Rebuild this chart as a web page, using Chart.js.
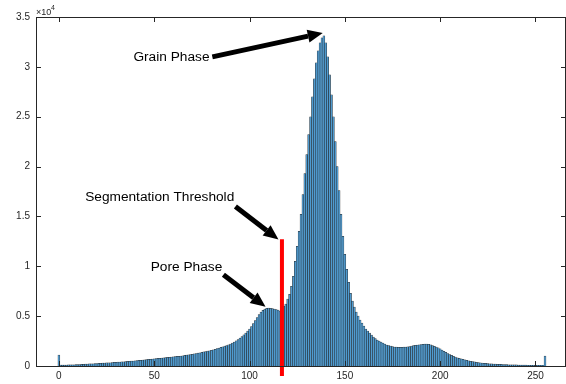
<!DOCTYPE html>
<html>
<head>
<meta charset="utf-8">
<script src="https://cdn.jsdelivr.net/npm/chart.js@4"></script>
<style>
  body { margin: 0; background: #fff; }
  canvas { display: block; }
</style>
</head>
<body>
<canvas id="graph" width="566" height="384"></canvas>
<script>
// grey level bins 0..255 and their pixel counts
const bins = Array.from({ length: 256 }, (_, i) => i);
const counts = [
    1100, 80, 90, 95, 100, 105, 110, 115, 120, 130, 140, 150, 165, 180, 190, 200,
    210, 220, 230, 240, 250, 260, 270, 285, 300, 310, 320, 330, 345, 360, 375, 390,
    400, 415, 430, 445, 460, 475, 490, 505, 520, 540, 560, 580, 600, 620, 640, 660,
    680, 700, 720, 740, 760, 780, 800, 820, 840, 860, 880, 900, 920, 940, 960, 980,
    1000, 1030, 1060, 1090, 1120, 1150, 1180, 1210, 1250, 1290, 1330, 1370, 1410, 1450, 1490, 1530,
    1580, 1630, 1680, 1740, 1800, 1860, 1920, 1990, 2060, 2130, 2210, 2300, 2400, 2520, 2650, 2790,
    2950, 3120, 3300, 3500, 3700, 3950, 4250, 4550, 4850, 5150, 5400, 5580, 5700, 5780, 5800, 5780,
    5750, 5700, 5650, 5600, 5500, 5550, 6000, 6200, 6700, 7200, 8000, 9000, 10500, 12000, 13500, 15200,
    17200, 19300, 21200, 23200, 25000, 27000, 28800, 30400, 31600, 32400, 32900, 33100, 32400, 31000, 29200, 27200,
    25000, 22500, 20000, 17600, 15200, 13000, 11200, 9700, 8400, 7300, 6500, 5900, 5400, 5000, 4600, 4300,
    4000, 3700, 3500, 3300, 3100, 2900, 2750, 2600, 2500, 2400, 2300, 2200, 2100, 2050, 2000, 1950,
    1900, 1900, 1880, 1880, 1880, 1900, 1900, 1920, 1950, 2000, 2050, 2080, 2100, 2120, 2150, 2180,
    2200, 2200, 2180, 2120, 2050, 1980, 1900, 1820, 1720, 1600, 1480, 1360, 1250, 1150, 1060, 980,
    900, 830, 770, 710, 660, 610, 560, 520, 480, 440, 410, 380, 350, 330, 300, 280,
    260, 240, 230, 215, 200, 190, 180, 170, 160, 150, 140, 130, 125, 120, 115, 110,
    105, 100, 95, 90, 85, 80, 78, 75, 72, 70, 68, 65, 62, 60, 60, 1000,
];

const xTicks = [0, 50, 100, 150, 200, 250];
const yTicks = [0, 5000, 10000, 15000, 20000, 25000, 30000, 35000];

// threshold line (grey level, top and bottom count)
const thresholdX = 117;
const thresholdY = [12700, -1000];

// annotations, in data units
const notes = ['Grain Phase', 'Segmentation Threshold', 'Pore Phase'];
const noteX = [79, 92, 85.7];
const noteY = [31000, 16900, 9900];
const tailX = [80.5, 92.6, 86.3];
const tailY = [31000, 16000, 9150];
const headX = [138.4, 115.2, 108.4];
const headY = [33400, 12680, 5930];

const FONT = '"Liberation Sans", Arial, sans-serif';
const AXIS = '#262626';

const arrow = (ctx, x0, y0, x1, y1) => {
    const ang = Math.atan2(y1 - y0, x1 - x0);
    const len = 15, half = 6.5;
    const bx = x1 - len * Math.cos(ang), by = y1 - len * Math.sin(ang);

    ctx.lineWidth = 5;
    ctx.lineCap = 'butt';
    ctx.beginPath();
    ctx.moveTo(x0, y0);
    ctx.lineTo(bx, by);
    ctx.stroke();

    ctx.beginPath();
    ctx.moveTo(x1, y1);
    ctx.lineTo(bx + half * Math.sin(ang), by - half * Math.cos(ang));
    ctx.lineTo(bx - half * Math.sin(ang), by + half * Math.cos(ang));
    ctx.closePath();
    ctx.fill();
}

const frame = {
    id: 'frame',

    afterDatasetsDraw(chart) {
        const { ctx, chartArea: a, scales: { x, y } } = chart;
        ctx.save();

        // box with inward ticks on all four sides
        ctx.strokeStyle = AXIS;
        ctx.lineWidth = 1;
        ctx.beginPath();
        ctx.rect(Math.round(a.left) + 0.5, Math.round(a.top) + 0.5,
            Math.round(a.right - a.left) - 1, Math.round(a.bottom - a.top));
        xTicks.forEach(v => {
            const px = Math.round(x.getPixelForValue(v)) + 0.5;
            ctx.moveTo(px, a.bottom);
            ctx.lineTo(px, a.bottom - 5);
            ctx.moveTo(px, a.top);
            ctx.lineTo(px, a.top + 5);
        });
        yTicks.forEach(v => {
            const py = Math.round(y.getPixelForValue(v)) + 0.5;
            ctx.moveTo(a.left, py);
            ctx.lineTo(a.left + 5, py);
            ctx.moveTo(a.right, py);
            ctx.lineTo(a.right - 5, py);
        });
        ctx.stroke();

        // exponent label
        ctx.fillStyle = AXIS;
        ctx.textBaseline = 'alphabetic';
        ctx.textAlign = 'left';
        ctx.font = '9px ' + FONT;
        ctx.fillText('\u00d710', a.left, a.top - 2);
        ctx.font = '7px ' + FONT;
        ctx.fillText('4', a.left + 15, a.top - 7);

        // annotations
        ctx.fillStyle = '#000';
        ctx.strokeStyle = '#000';
        notes.forEach((t, i) => {
            ctx.font = '13.7px ' + FONT;
            ctx.textAlign = 'right';
            ctx.textBaseline = 'middle';
            ctx.fillText(t, x.getPixelForValue(noteX[i]), y.getPixelForValue(noteY[i]));
            arrow(ctx,
                x.getPixelForValue(tailX[i]), y.getPixelForValue(tailY[i]),
                x.getPixelForValue(headX[i]), y.getPixelForValue(headY[i]));
        });

        ctx.restore();
    },
};

new Chart('graph', {
    data: {
        datasets: [{
            type: 'line',
            data: thresholdY.map(v => ({ x: thresholdX, y: v })),
            borderColor: '#ff0000',
            borderWidth: 4,
            pointRadius: 0,
            clip: false,
            order: 0,
        }, {
            type: 'bar',
            data: bins.map((b, i) => ({ x: b, y: counts[i] })),
            backgroundColor: '#4f9bd0',
            borderColor: 'rgba(20,20,20,0.9)',
            borderWidth: 0.5,
            barPercentage: 1,
            categoryPercentage: 1,
            order: 1,
        }],
    },

    options: {
        responsive: false,
        animation: false,
        layout: {
            padding: { top: 17, right: 0, left: 0, bottom: 0 },
        },
        plugins: {
            legend: { display: false },
            tooltip: { enabled: false },
        },
        scales: {
            x: {
                type: 'linear',
                offset: false,
                min: -12,
                max: 266,
                grid: { display: false, drawTicks: false },
                border: { display: false },
                ticks: {
                    color: AXIS,
                    font: { family: FONT, size: 10 },
                    padding: 4,
                    maxRotation: 0,
                },
                afterBuildTicks: s => { s.ticks = xTicks.map(v => ({ value: v })); },
                afterFit: s => { s.height = 18; },
            },
            y: {
                type: 'linear',
                min: 0,
                max: 35000,
                grid: { display: false, drawTicks: false },
                border: { display: false },
                ticks: {
                    color: AXIS,
                    font: { family: FONT, size: 10 },
                    padding: 6,
                    callback: v => v / 1e4,
                },
                afterBuildTicks: s => { s.ticks = yTicks.map(v => ({ value: v })); },
                afterFit: s => { s.width = 36; },
            },
        },
    },

    plugins: [frame],
});
</script>
</body>
</html>
